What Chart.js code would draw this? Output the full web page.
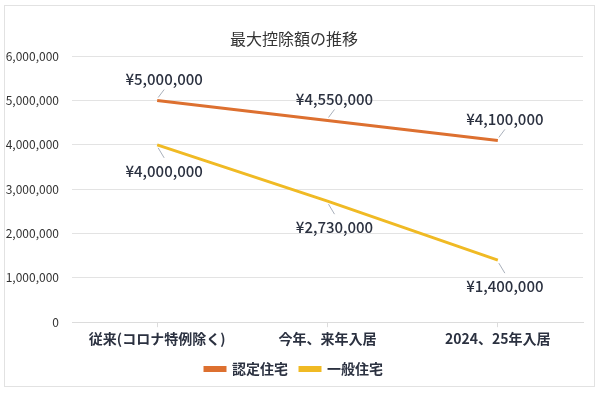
<!DOCTYPE html>
<html>
<head>
<meta charset="utf-8">
<script src="https://cdn.jsdelivr.net/npm/chart.js@4"></script>
<style>
html,body{margin:0;padding:0;background:#fff;}
#wrap{width:600px;height:394px;position:relative;}
</style>
</head>
<body>
<div id="wrap"><canvas id="c" width="600" height="394"></canvas></div>
<script>
const categories = ['従来(コロナ特例除く)', '今年、来年入居', '2024、25年入居'];
const certifiedHousing = [5000000, 4550000, 4100000];
const generalHousing = [4000000, 2730000, 1400000];
const seriesNames = ['認定住宅', '一般住宅'];
const yTicks = [0, 1000000, 2000000, 3000000, 4000000, 5000000, 6000000];
const chartTitle = '最大控除額の推移';

const FONT = '"Noto Sans CJK JP", "Noto Sans", sans-serif';
const TEXT = '#2b3140';

const borderPlugin = {
  id: 'frame',
  beforeDraw(chart) {
    const ctx = chart.ctx;
    ctx.save();
    ctx.fillStyle = '#fff';
    ctx.fillRect(0, 0, chart.width, chart.height);
    ctx.strokeStyle = '#e2e2e2';
    ctx.lineWidth = 1;
    ctx.strokeRect(4.5, 5.5, 590, 381);
    ctx.restore();
  }
};

const labelPlugin = {
  id: 'valueLabels',
  afterDatasetsDraw(chart) {
    const ctx = chart.ctx;
    const offsets = [
      {dx: 7, dy: -21, l1: -3, l2: -11},
      {dx: 7, dy: 26, l1: 3, l2: 13}
    ];
    chart.data.datasets.forEach((ds, di) => {
      const meta = chart.getDatasetMeta(di);
      const o = offsets[di];
      meta.data.forEach((pt, i) => {
        const v = ds.data[i];
        const x = pt.x, y = pt.y;
        ctx.save();
        ctx.strokeStyle = '#a9b0bb';
        ctx.lineWidth = 1;
        ctx.beginPath();
        ctx.moveTo(x + 1, y + o.l1);
        ctx.lineTo(x + 7, y + o.l2);
        ctx.stroke();
        ctx.fillStyle = TEXT;
        ctx.font = '500 15px ' + FONT;
        ctx.textAlign = 'center';
        ctx.textBaseline = 'middle';
        ctx.fillText('¥' + v.toLocaleString('en-US'), x + o.dx, y + o.dy);
        ctx.restore();
      });
    });
  }
};

new Chart(document.getElementById('c'), {
  type: 'line',
  data: {
    labels: categories,
    datasets: [
      {label: seriesNames[0], data: certifiedHousing, borderColor: '#DD7030', backgroundColor: '#DD7030', borderWidth: 3, pointRadius: 0, tension: 0},
      {label: seriesNames[1], data: generalHousing, borderColor: '#F0BA24', backgroundColor: '#F0BA24', borderWidth: 3, pointRadius: 0, tension: 0}
    ]
  },
  options: {
    responsive: false,
    animation: false,
    layout: {padding: {left: 5, right: 17, top: 0, bottom: 8}},
    plugins: {
      title: {display: true, text: chartTitle, color: '#333', font: {family: FONT, size: 16, weight: 'normal'}, padding: {top: 29, bottom: 8}},
      legend: {
        position: 'bottom',
        labels: {boxWidth: 20, boxHeight: 3, color: TEXT, font: {family: FONT, size: 14, weight: 'bold'}, padding: 12}
      },
      tooltip: {enabled: false}
    },
    scales: {
      x: {
        offset: true,
        grid: {display: true, drawOnChartArea: false, drawTicks: true, tickLength: 5, color: '#dcdcdc'},
        border: {display: true, color: '#dcdcdc'},
        ticks: {color: TEXT, font: {family: FONT, size: 14, weight: 'bold'}, padding: 3}
      },
      y: {
        min: 0, max: 6000000,
        afterBuildTicks(scale) { scale.ticks = yTicks.map(v => ({value: v})); },
        afterFit(scale) { scale.width = 67; },
        grid: {color: '#e3e3e3', drawTicks: false},
        border: {display: false},
        ticks: {color: '#333', font: {family: FONT, size: 12}, padding: 13, callback: v => v.toLocaleString('en-US')}
      }
    }
  },
  plugins: [borderPlugin, labelPlugin]
});
</script>
</body>
</html>
